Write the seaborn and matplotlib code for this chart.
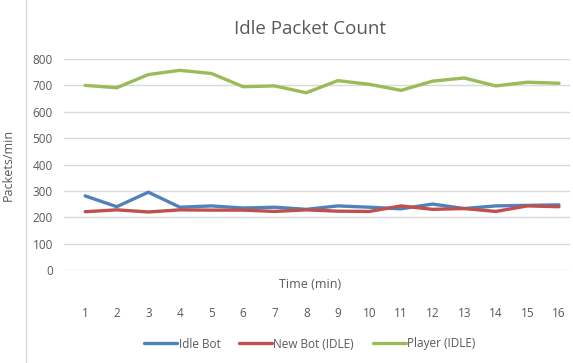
import matplotlib
matplotlib.use("Agg")
import matplotlib.pyplot as plt
from matplotlib.lines import Line2D
import pandas as pd
import seaborn as sns

minutes = list(range(1, 17))
idle_bot = [281, 240, 295, 238, 243, 235, 238, 230, 243, 238, 232, 250, 233, 243, 245, 247]
new_bot = [221, 228, 220, 228, 227, 227, 222, 228, 223, 222, 243, 230, 233, 222, 243, 240]
player = [700, 691, 741, 757, 745, 695, 698, 672, 718, 704, 681, 716, 728, 698, 712, 708]
series_names = ["Idle Bot", "New Bot (IDLE)", "Player (IDLE)"]
series_colors = ["#4F81BD", "#C0504D", "#9BBB59"]

df = pd.DataFrame({
    "Time": minutes * 3,
    "Packets": idle_bot + new_bot + player,
    "Series": [s for s in series_names for _ in minutes],
})

sns.set_theme(style="white")
plt.rcParams["font.family"] = ["Open Sans", "DejaVu Sans"]
text_gray = "#595959"

W, H = 573, 363
fig = plt.figure(figsize=(W / 100, H / 100), dpi=100)
ax = fig.add_axes([64 / W, 1 - 270 / H, (570 - 64) / W, (270 - 59) / H])

sns.lineplot(data=df, x="Time", y="Packets", hue="Series", hue_order=series_names,
             palette=series_colors, linewidth=2.4, ax=ax, legend=False)

ax.set_ylim(0, 800)
ax.set_xlim(0.33, 16.35)
ax.set_yticks(range(0, 801, 100))
ax.set_xticks(minutes)
ax.yaxis.grid(True, color="#D9D9D9", linewidth=1.0)
ax.xaxis.grid(False)
for sp in ax.spines.values():
    sp.set_visible(False)
ax.tick_params(axis="x", length=0, pad=26.5, labelsize=8.5, labelcolor=text_gray)
ax.tick_params(axis="y", length=0, pad=8, labelsize=8.5, labelcolor=text_gray)

ax.set_xlabel("Time (min)", fontsize=9, color=text_gray)
ax.xaxis.set_label_coords((310 - 64) / (570 - 64), -(278 - 270) / (270 - 59))
ax.set_ylabel("Packets/min", fontsize=9, color=text_gray)
ax.yaxis.set_label_coords((15 - 64) / (570 - 64), 0.5)

fig.text(310 / W, 1 - 29 / H, "Idle Packet Count", ha="center", va="center",
         fontsize=13.5, color=text_gray)

handles = [Line2D([0], [0], color=c, linewidth=2.4) for c in series_colors]
fig.legend(handles, series_names, loc="center", bbox_to_anchor=(310 / W, 1 - 344 / H),
           ncol=3, frameon=False, fontsize=8.5, handlelength=2.8, handletextpad=0.1,
           columnspacing=1.6, labelcolor=text_gray)

# faint border on the left edge of the chart area
fig.add_artist(Line2D([26 / W, 26 / W], [0, 1], transform=fig.transFigure,
                      color="#D9D9D9", linewidth=1.0))

fig.savefig("out.png", dpi=100)
